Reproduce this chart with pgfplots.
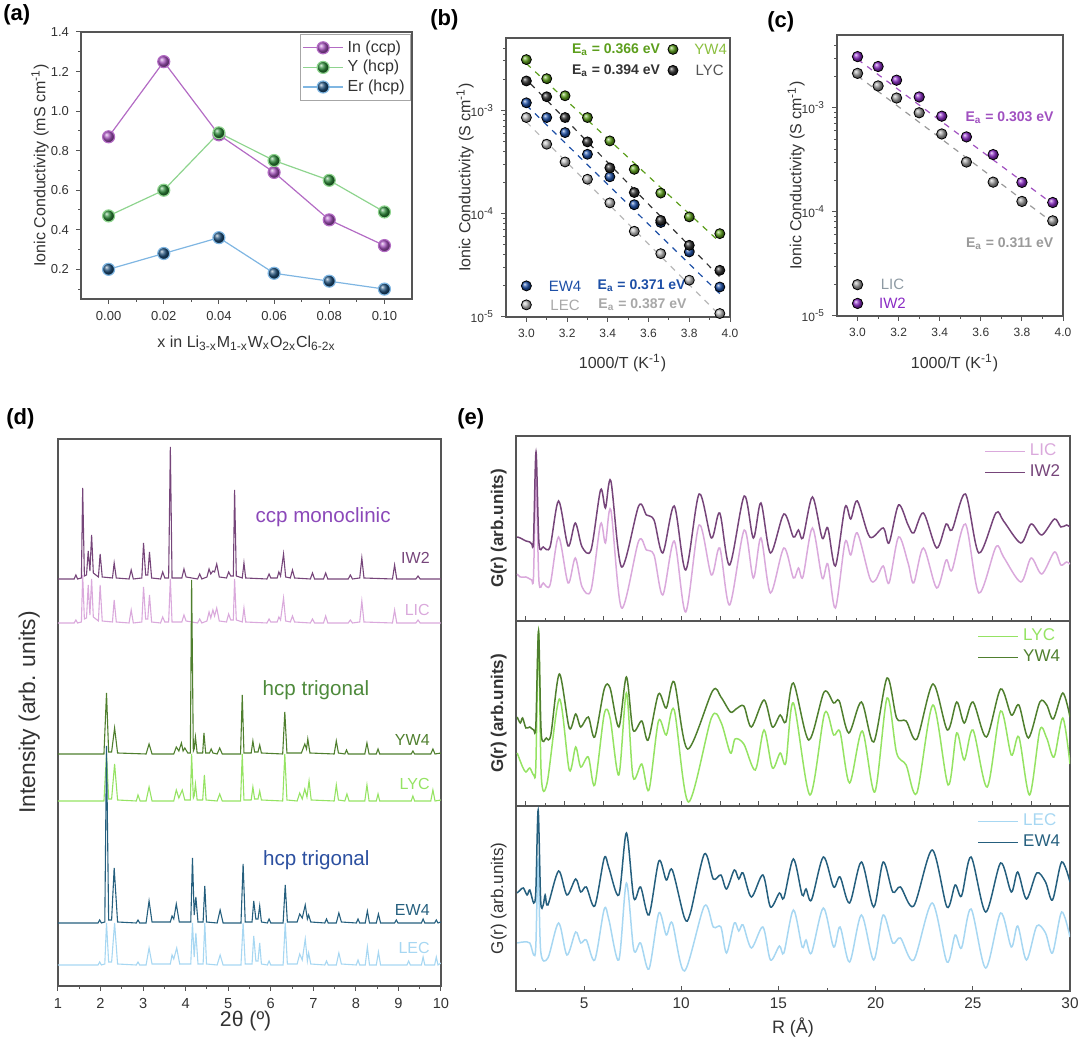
\documentclass[border=0pt]{standalone}
\usepackage{pgfplots}
\pgfplotsset{compat=1.18}
\usepackage{fontspec}
\setmainfont{Liberation Sans}
\newcommand{\fs}[1]{\fontsize{#1}{#1}\selectfont}
\definecolor{frameC}{HTML}{555555}
\definecolor{txtC}{HTML}{333333}
\definecolor{inL}{HTML}{B36BC4}
\definecolor{inM}{HTML}{A855C0}
\definecolor{yL}{HTML}{8ED48E}
\definecolor{yM}{HTML}{2E8B3A}
\definecolor{erL}{HTML}{7FB6E2}
\definecolor{erM}{HTML}{1F4F7A}
\definecolor{bYW}{HTML}{5C9E1C}
\definecolor{bYWt}{HTML}{8BBF3F}
\definecolor{bLY}{HTML}{333333}
\definecolor{bLYt}{HTML}{555555}
\definecolor{bEW}{HTML}{1D4FA6}
\definecolor{bLE}{HTML}{B8B8B8}
\definecolor{bLEt}{HTML}{A8A8A8}
\definecolor{cIW}{HTML}{8A2BC4}
\definecolor{cIWd}{HTML}{A050C0}
\definecolor{cLI}{HTML}{9A9A9A}
\definecolor{cLIt}{HTML}{8E9AA3}
\definecolor{dIW}{HTML}{76457A}
\definecolor{dLI}{HTML}{DAA9DC}
\definecolor{dYW}{HTML}{4F7F2E}
\definecolor{dLY}{HTML}{95E363}
\definecolor{dEW}{HTML}{255F7E}
\definecolor{dLE}{HTML}{A7D7F2}
\definecolor{ccpT}{HTML}{8B48B9}
\definecolor{hcpG}{HTML}{4E8A3C}
\definecolor{hcpB}{HTML}{2C50A0}
\pgfplotsset{
  base/.style={scale only axis, anchor=north west,
    axis line style={frameC, line width=0.6pt},
    every tick/.style={frameC, line width=0.5pt},
    major tick length=2.5pt, minor tick length=1.5pt,
    tick label style={text=txtC}, label style={text=txtC},
    /pgf/number format/assume math mode=true},
  pdf/.style={base, width=277pt, height=92.5pt, xmin=1.5, xmax=30, ymin=0, ymax=185,
    ytick=\empty, tick align=inside, xtick pos=bottom,
    axis line style={frameC, line width=0.7pt},
    legend style={draw=none, fill=none, at={(0.99,0.98)}, anchor=north east,
      font=\fs{8.5}, row sep=-1pt, inner sep=0pt, cells={anchor=west}},
    legend image code/.code={\draw[#1, line width=0.75pt] (0pt,0pt) -- (20pt,0pt);},
    ylabel style={font=\fs{8.5}, at={(axis description cs:-0.031,0.5)}, anchor=center}},
}
\begin{document}
\begin{tikzpicture}
\useasboundingbox (0,0) rectangle (540pt,521pt);
% panel labels
\node[anchor=north west, font=\bfseries\fs{11}, inner sep=0pt] at (1.5pt,519pt) {(a)};
\node[anchor=north west, font=\bfseries\fs{11}, inner sep=0pt] at (215pt,516.5pt) {(b)};
\node[anchor=north west, font=\bfseries\fs{11}, inner sep=0pt] at (383.5pt,515.5pt) {(c)};
\node[anchor=north west, font=\bfseries\fs{11}, inner sep=0pt] at (3pt,317pt) {(d)};
\node[anchor=north west, font=\bfseries\fs{11}, inner sep=0pt] at (228.5pt,317pt) {(e)};

% ---------------- (a)
\begin{axis}[base, at={(40.5pt,505pt)}, width=165.5pt, height=133.5pt,
  xmin=-0.01, xmax=0.11, ymin=0.05, ymax=1.4,
  xtick={0,0.02,0.04,0.06,0.08,0.1},
  minor xtick={0.01,0.03,0.05,0.07,0.09},
  ytick={0.2,0.4,0.6,0.8,1.0,1.2,1.4},
  minor ytick={0.1,0.3,0.5,0.7,0.9,1.1,1.3},
  tick align=outside, xtick pos=bottom, ytick pos=left,
  xticklabel style={/pgf/number format/.cd, fixed, fixed zerofill, precision=2},
  yticklabel style={/pgf/number format/.cd, fixed, fixed zerofill, precision=1},
  tick label style={font=\fs{6.5}},
  xlabel={x in Li\textsubscript{3-x}M\textsubscript{1-x}W\textsubscript{x}O\textsubscript{2x}Cl\textsubscript{6-2x}},
  ylabel={Ionic Conductivity (mS cm\textsuperscript{-1})},
  xlabel style={font=\fs{8}, at={(axis description cs:0.5,-0.165)}, anchor=center},
  ylabel style={font=\fs{8}, at={(axis description cs:-0.124,0.5)}, anchor=center},
  legend style={at={(0.997,0.992)}, anchor=north east, draw=gray!70, font=\fs{8},
    inner sep=1pt, row sep=-1.5pt, cells={anchor=west}, text=txtC},
  legend image code/.code={\draw[mark repeat=2,mark phase=2,#1] plot coordinates {(0pt,0pt) (10pt,0pt) (20pt,0pt)};},
]
\addplot[color=inL, line width=0.6pt, mark=ball, mark size=3pt, mark options={ball color=inM}]
  coordinates {(0,0.87) (0.02,1.25) (0.04,0.88) (0.06,0.69) (0.08,0.45) (0.10,0.32)};
\addlegendentry{In (ccp)}
\addplot[color=yL, line width=0.6pt, mark=ball, mark size=3pt, mark options={ball color=yM}]
  coordinates {(0,0.47) (0.02,0.60) (0.04,0.89) (0.06,0.75) (0.08,0.65) (0.10,0.49)};
\addlegendentry{Y (hcp)}
\addplot[color=erL, line width=0.6pt, mark=ball, mark size=3pt, mark options={ball color=erM}]
  coordinates {(0,0.20) (0.02,0.28) (0.04,0.36) (0.06,0.18) (0.08,0.14) (0.10,0.10)};
\addlegendentry{Er (hcp)}
\end{axis}

% ---------------- (b)
\begin{axis}[base, at={(253pt,502pt)}, width=112pt, height=139.5pt,
  ymode=log, xmin=2.9, xmax=4.0, ymin=1e-5, ymax=5e-3,
  xtick={3,3.2,3.4,3.6,3.8,4}, minor xtick={3.1,3.3,3.5,3.7,3.9},
  ytick={1e-5,1e-4,1e-3},
  yticklabels={10\textsuperscript{-5},10\textsuperscript{-4},10\textsuperscript{-3}},
  minor ytick={2e-5,3e-5,4e-5,5e-5,6e-5,7e-5,8e-5,9e-5,2e-4,3e-4,4e-4,5e-4,6e-4,7e-4,8e-4,9e-4,2e-3,3e-3,4e-3},
  xticklabel style={/pgf/number format/.cd, fixed, fixed zerofill, precision=1},
  tick align=outside, xtick pos=bottom, ytick pos=left,
  tick label style={font=\fs{6}},
  xlabel={1000/T (K\textsuperscript{-1})}, ylabel={Ionic Conductivity (S cm\textsuperscript{-1})},
  xlabel style={font=\fs{8}, at={(axis description cs:0.52,-0.165)}, anchor=center},
  ylabel style={font=\fs{8}, at={(axis description cs:-0.183,0.5)}, anchor=center},
]
\addplot[bYW, dashed, line width=0.6pt] coordinates {(3.0,2.83e-3) (3.95,5.3e-5)};
\addplot[bLY, dashed, line width=0.6pt] coordinates {(3.02,1.81e-3) (3.95,2.44e-5)};
\addplot[bEW, dashed, line width=0.6pt] coordinates {(3.0,1.12e-3) (3.95,1.68e-5)};
\addplot[bLE, dashed, line width=0.6pt] coordinates {(3.0,7.7e-4) (3.95,1.04e-5)};
\addplot[only marks, mark=ball, mark size=2.5pt, mark options={ball color=bLE}] coordinates {
 (3.0,8.5e-4) (3.1,4.69e-4) (3.19,3.16e-4) (3.3,2.15e-4) (3.41,1.27e-4) (3.53,6.75e-5) (3.66,4.1e-5) (3.8,2.27e-5) (3.95,1.08e-5)};
\addplot[only marks, mark=ball, mark size=2.5pt, mark options={ball color=bEW}] coordinates {
 (3.0,1.18e-3) (3.1,8.5e-4) (3.19,6.08e-4) (3.3,3.75e-4) (3.41,2.27e-4) (3.53,1.22e-4) (3.66,8.2e-5) (3.8,4.26e-5) (3.95,1.95e-5)};
\addplot[only marks, mark=ball, mark size=2.5pt, mark options={ball color=bLY}] coordinates {
 (3.0,1.92e-3) (3.1,1.35e-3) (3.19,8.5e-4) (3.3,4.94e-4) (3.41,2.77e-4) (3.53,1.6e-4) (3.66,8.6e-5) (3.8,4.94e-5) (3.95,2.83e-5)};
\addplot[only marks, mark=ball, mark size=2.5pt, mark options={ball color=bYW}] coordinates {
 (3.0,3.09e-3) (3.1,2.02e-3) (3.19,1.38e-3) (3.3,8.5e-4) (3.41,5.05e-4) (3.53,2.68e-4) (3.66,1.58e-4) (3.8,9.3e-5) (3.95,6.4e-5)};
% legend-like markers
\addplot[only marks, mark=ball, mark size=2.5pt, mark options={ball color=bYW}] coordinates {(3.72,3.88e-3)};
\addplot[only marks, mark=ball, mark size=2.5pt, mark options={ball color=bLY}] coordinates {(3.72,2.43e-3)};
\addplot[only marks, mark=ball, mark size=2.5pt, mark options={ball color=bEW}] coordinates {(3.0,2.0e-5)};
\addplot[only marks, mark=ball, mark size=2.5pt, mark options={ball color=bLE}] coordinates {(3.0,1.31e-5)};
\node[font=\bfseries\fs{7}, text=bYW] at (axis cs:3.44,3.88e-3) {E\textsubscript{a} = 0.366 eV};
\node[font=\fs{7.5}, text=bYWt] at (axis cs:3.905,3.88e-3) {YW4};
\node[font=\bfseries\fs{7}, text=bLY] at (axis cs:3.44,2.43e-3) {E\textsubscript{a} = 0.394 eV};
\node[font=\fs{7.5}, text=bLYt] at (axis cs:3.90,2.43e-3) {LYC};
\node[font=\fs{7.5}, text=bEW] at (axis cs:3.19,2.0e-5) {EW4};
\node[font=\bfseries\fs{7}, text=bEW] at (axis cs:3.566,2.0e-5) {E\textsubscript{a} = 0.371 eV};
\node[font=\fs{7.5}, text=bLEt] at (axis cs:3.19,1.31e-5) {LEC};
\node[font=\bfseries\fs{7}, text=bLEt] at (axis cs:3.57,1.31e-5) {E\textsubscript{a} = 0.387 eV};
\end{axis}

% ---------------- (c)
\begin{axis}[base, at={(418.5pt,503.5pt)}, width=113pt, height=140.5pt,
  ymode=log, xmin=2.9, xmax=4.0, ymin=1e-5, ymax=5e-3,
  xtick={3,3.2,3.4,3.6,3.8,4}, minor xtick={3.1,3.3,3.5,3.7,3.9},
  ytick={1e-5,1e-4,1e-3},
  yticklabels={10\textsuperscript{-5},10\textsuperscript{-4},10\textsuperscript{-3}},
  minor ytick={2e-5,3e-5,4e-5,5e-5,6e-5,7e-5,8e-5,9e-5,2e-4,3e-4,4e-4,5e-4,6e-4,7e-4,8e-4,9e-4,2e-3,3e-3,4e-3},
  xticklabel style={/pgf/number format/.cd, fixed, fixed zerofill, precision=1},
  tick align=outside, xtick pos=bottom, ytick pos=left,
  tick label style={font=\fs{6}},
  xlabel={1000/T (K\textsuperscript{-1})}, ylabel={Ionic Conductivity (S cm\textsuperscript{-1})},
  xlabel style={font=\fs{8}, at={(axis description cs:0.52,-0.167)}, anchor=center},
  ylabel style={font=\fs{8}, at={(axis description cs:-0.181,0.5)}, anchor=center},
]
\addplot[cIWd, dashed, line width=0.6pt] coordinates {(3.0,2.92e-3) (3.95,1.19e-4)};
\addplot[cLI, dashed, line width=0.6pt] coordinates {(3.0,2.02e-3) (3.95,7.9e-5)};
\addplot[only marks, mark=ball, mark size=2.6pt, mark options={ball color=cLI}] coordinates {
 (3.0,2.14e-3) (3.1,1.62e-3) (3.19,1.24e-3) (3.3,8.95e-4) (3.41,5.6e-4) (3.53,3.01e-4) (3.66,1.93e-4) (3.8,1.26e-4) (3.95,8.2e-5)};
\addplot[only marks, mark=ball, mark size=2.6pt, mark options={ball color=cIW}] coordinates {
 (3.0,3.1e-3) (3.1,2.49e-3) (3.19,1.84e-3) (3.3,1.27e-3) (3.41,8.3e-4) (3.53,5.25e-4) (3.66,3.55e-4) (3.8,1.92e-4) (3.95,1.23e-4)};
\addplot[only marks, mark=ball, mark size=2.6pt, mark options={ball color=cLI}] coordinates {(3.0,2.0e-5)};
\addplot[only marks, mark=ball, mark size=2.6pt, mark options={ball color=cIW}] coordinates {(3.0,1.32e-5)};
\node[font=\bfseries\fs{7}, text=cIWd] at (axis cs:3.74,8.0e-4) {E\textsubscript{a} = 0.303 eV};
\node[font=\bfseries\fs{7}, text=cLI] at (axis cs:3.74,5.0e-5) {E\textsubscript{a} = 0.311 eV};
\node[font=\fs{7.5}, text=cLIt] at (axis cs:3.17,2.0e-5) {LIC};
\node[font=\fs{7.5}, text=cIW] at (axis cs:3.17,1.32e-5) {IW2};
\end{axis}

% ---------------- (d)
\begin{axis}[base, at={(29pt,301.5pt)}, width=191.5pt, height=273.5pt,
  xmin=1, xmax=10, ymin=0, ymax=547,
  xtick={1,2,3,4,5,6,7,8,9,10}, minor xtick={1.5,2.5,3.5,4.5,5.5,6.5,7.5,8.5,9.5},
  ytick=\empty, tick align=outside, xtick pos=bottom,
  axis line style={frameC, line width=0.7pt},
  tick label style={font=\fs{7.3}},
  xlabel={2θ (º)}, ylabel={Intensity (arb. units)},
  xlabel style={font=\fs{10.6}, at={(axis description cs:0.49,-0.064)}, anchor=center},
  ylabel style={font=\fs{11.4}, at={(axis description cs:-0.075,0.5)}, anchor=center},
]
\addplot[dLI, line width=0.55pt] table[x index=0, y expr=\thisrowno{1}+363] {
1.0 0
1.38 0
1.42 3
1.46 0
1.55 1
1.58 48
1.62 4
1.67 5
1.71 38
1.75 8
1.79 44
1.83 6
1.95 2
1.99 38
2.04 2
2.28 1
2.32 23
2.37 1
2.67 0
2.72 13
2.77 0
2.97 1
3.01 36
3.06 4
3.11 4
3.15 28
3.20 1
3.41 0
3.46 6
3.51 1
3.60 1
3.64 44
3.68 1
3.91 1
3.96 8
4.01 2
4.28 0
4.33 4
4.38 0
4.50 2
4.55 11
4.59 5
4.64 13
4.68 7
4.73 15
4.79 2
4.96 1
5.01 9
5.06 3
5.12 3
5.15 44
5.19 3
5.33 1
5.37 15
5.41 1
5.91 0
5.96 4
6.0 1
6.15 1
6.19 6
6.23 3
6.30 25
6.35 2
6.46 1
6.51 7
6.56 1
6.93 0
6.98 4
7.03 0
7.24 0
7.29 7
7.34 0
7.82 0
7.87 3
7.92 0
8.09 1
8.14 22
8.19 1
8.86 0
8.91 13
8.96 0
9.41 0
9.46 3
9.51 0
10.0 0
};
\addplot[dIW, line width=0.55pt] table[x index=0, y expr=\thisrowno{1}+407] {
1.0 0
1.38 0
1.42 4
1.46 0
1.55 1
1.58 91
1.62 3
1.67 4
1.71 28
1.75 8
1.79 44
1.83 6
1.95 2
1.99 25
2.04 2
2.28 1
2.32 16
2.37 1
2.67 0
2.72 9
2.77 0
2.97 1
3.01 36
3.06 4
3.11 4
3.15 27
3.20 1
3.41 0
3.46 7
3.51 1
3.60 1
3.64 132
3.68 1
3.91 1
3.96 10
4.01 2
4.28 0
4.33 5
4.38 0
4.50 2
4.55 10
4.59 5
4.64 8
4.68 7
4.73 15
4.79 2
4.96 1
5.01 7
5.06 3
5.12 3
5.15 89
5.19 3
5.33 1
5.37 16
5.41 1
5.91 0
5.96 5
6.0 1
6.15 1
6.19 7
6.23 3
6.30 25
6.35 2
6.46 1
6.51 9
6.56 1
6.93 0
6.98 6
7.03 0
7.24 0
7.29 6
7.34 0
7.82 0
7.87 4
7.92 0
8.09 1
8.14 21
8.19 1
8.86 0
8.91 14
8.96 0
9.41 0
9.46 3
9.51 0
10.0 0
};
\addplot[dLY, line width=0.55pt] table[x index=0, y expr=\thisrowno{1}+185] {
1.0 0
2.08 0
2.14 47
2.19 2
2.26 2
2.33 37
2.40 1
2.84 0
2.88 6
2.93 0
3.07 0
3.14 14
3.21 0
3.72 0
3.78 11
3.84 3
3.92 11
3.98 1
4.11 1
4.14 47
4.18 3
4.20 5
4.23 17
4.27 1
4.40 1
4.44 26
4.48 1
4.74 0
4.80 7
4.86 0
5.29 0
5.33 47
5.37 1
5.54 1
5.58 14
5.62 2
5.70 2
5.74 10
5.78 1
6.28 0
6.33 47
6.38 1
6.62 0
6.68 8
6.74 2
6.80 12
6.85 4
6.90 20
6.95 1
7.49 0
7.54 16
7.59 1
7.74 0
7.79 7
7.84 0
8.21 0
8.26 16
8.31 0
8.48 0
8.52 7
8.56 0
9.30 0
9.34 5
9.38 0
9.76 0
9.81 11
9.86 0
10.0 1
};
\addplot[dYW, line width=0.55pt] table[x index=0, y expr=\thisrowno{1}+232] {
1.0 0
2.08 0
2.14 61
2.19 2
2.26 2
2.33 26
2.40 1
3.07 0
3.14 10
3.21 0
3.72 0
3.78 7
3.84 3
3.90 11
3.94 3
3.98 6
4.05 1
4.11 1
4.14 174
4.18 3
4.20 5
4.23 17
4.27 1
4.40 1
4.43 21
4.47 1
4.56 1
4.60 5
4.64 1
4.74 0
4.80 6
4.86 0
5.29 0
5.33 59
5.37 1
5.54 1
5.58 13
5.62 2
5.70 2
5.74 9
5.78 1
6.28 0
6.33 42
6.38 1
6.72 1
6.80 10
6.84 5
6.87 15
6.92 1
7.49 0
7.54 13
7.59 1
7.74 0
7.78 4
7.82 0
8.21 0
8.26 11
8.31 0
8.48 0
8.52 5
8.56 0
9.30 0
9.34 3
9.38 0
9.76 0
9.81 5
9.86 0
10.0 1
};
\addplot[dLE, line width=0.55pt] table[x index=0, y expr=\thisrowno{1}+21] {
1.0 0
1.94 0
1.98 3
2.02 0
2.10 1
2.14 42
2.19 3
2.26 3
2.33 42
2.40 1
2.84 0
2.88 3
2.92 0
3.07 0
3.14 17
3.21 1
3.64 1
3.68 10
3.72 6
3.79 17
3.86 1
4.12 1
4.16 42
4.20 8
4.24 32
4.29 1
4.41 1
4.45 42
4.49 1
4.74 0
4.81 10
4.88 0
5.30 0
5.35 42
5.40 1
5.56 1
5.60 29
5.65 4
5.70 4
5.74 22
5.78 1
5.92 0
5.96 4
6.00 0
6.29 0
6.34 42
6.39 1
6.62 1
6.68 11
6.74 5
6.81 26
6.86 4
6.89 12
6.94 1
7.27 0
7.31 4
7.35 0
7.54 0
7.60 12
7.66 1
8.01 0
8.05 5
8.09 0
8.22 0
8.27 18
8.32 0
8.48 0
8.53 13
8.58 0
9.20 0
9.24 4
9.28 0
9.54 0
9.58 8
9.62 0
9.85 0
9.89 8
9.93 0
10.0 2
};
\addplot[dEW, line width=0.55pt] table[x index=0, y expr=\thisrowno{1}+63] {
1.0 0
1.94 0
1.98 3
2.02 0
2.10 1
2.14 177
2.19 3
2.26 3
2.32 55
2.40 1
2.84 0
2.88 3
2.92 0
3.07 0
3.14 22
3.21 1
3.64 1
3.68 7
3.72 4
3.78 19
3.85 1
4.12 1
4.16 65
4.20 8
4.24 26
4.29 1
4.41 1
4.45 37
4.49 1
4.74 0
4.81 13
4.88 0
5.30 0
5.35 59
5.40 1
5.56 1
5.60 22
5.65 4
5.70 4
5.74 17
5.78 1
5.92 0
5.96 4
6.00 0
6.29 0
6.34 38
6.39 1
6.62 1
6.68 9
6.74 5
6.81 18
6.86 4
6.89 8
6.94 1
7.27 0
7.31 4
7.35 0
7.54 0
7.60 10
7.66 1
8.01 0
8.05 4
8.09 0
8.22 0
8.27 12
8.32 0
8.48 0
8.53 9
8.58 0
8.91 0
8.95 3
8.99 0
9.54 0
9.58 4
9.62 0
9.85 0
9.89 3
9.93 0
10.0 1
};
\node[font=\fs{10.3}, text=ccpT] at (axis cs:7.23,469) {ccp monoclinic};
\node[font=\fs{10.3}, text=hcpG] at (axis cs:7.06,296) {hcp trigonal};
\node[font=\fs{10.3}, text=hcpB] at (axis cs:7.07,126) {hcp trigonal};
\node[font=\fs{8}, text=dIW, anchor=east] at (axis cs:9.9,428) {IW2};
\node[font=\fs{8}, text=dLI, anchor=east] at (axis cs:9.9,376) {LIC};
\node[font=\fs{8}, text=dYW, anchor=east] at (axis cs:9.9,246) {YW4};
\node[font=\fs{8}, text=dLY, anchor=east] at (axis cs:9.9,202) {LYC};
\node[font=\fs{8}, text=dEW, anchor=east] at (axis cs:9.9,76) {EW4};
\node[font=\fs{8}, text=dLE, anchor=east] at (axis cs:9.9,38) {LEC};
\end{axis}

% ---------------- (e) top
\begin{axis}[pdf, at={(258pt,303pt)},
  xtick={2,4,...,30}, minor xtick={3,5,...,29}, xticklabels={},
  ylabel={\bfseries G(r) (arb.units)}]
\addplot[dLI, line width=0.75pt, smooth] coordinates {
(1.56,47) (1.72,44) (2.01,44) (2.21,42) (2.31,41) (2.40,44) (2.53,141) (2.68,40) (2.90,38) (3.25,36)
(3.69,84) (4.18,38) (4.55,63) (4.90,34) (5.36,31) (5.85,97) (6.10,78) (6.38,111) (6.93,13) (7.81,80)
(8.21,71) (8.60,66) (9.05,26) (9.64,80) (10.23,9) (10.92,96) (11.55,46) (11.98,73) (12.49,16) (13.24,91)
(13.71,43) (14.10,83) (14.59,28) (15.28,73) (15.77,43) (16.03,53) (16.26,44) (16.75,93) (17.25,43) (17.54,57)
(17.93,13) (18.43,79) (18.72,66) (19.06,88) (19.70,43) (20.00,41) (20.39,55) (20.69,38) (21.18,84) (21.67,58)
(21.96,38) (22.46,73) (23.14,33) (23.63,61) (23.93,51) (24.62,97) (25.31,28) (26.19,74) (26.58,64) (27.47,39)
(28.00,63) (28.55,47) (29.20,69) (29.53,56) (29.82,59) (30.00,57)};
\addlegendentry{\textcolor{dLI}{LIC}}
\addplot[dIW, line width=0.75pt, smooth] coordinates {
(1.56,84) (1.72,83) (2.01,80) (2.21,79) (2.31,77) (2.40,80) (2.53,169) (2.68,78) (2.90,74) (3.25,74)
(3.69,120) (4.18,75) (4.55,98) (4.90,74) (5.36,71) (5.85,131) (6.10,113) (6.38,140) (6.93,54) (7.81,115)
(8.21,106) (8.60,101) (9.05,68) (9.64,115) (10.23,51) (10.92,127) (11.55,83) (11.98,108) (12.49,56) (13.24,125)
(13.71,83) (14.10,118) (14.59,68) (15.28,107) (15.77,84) (16.03,91) (16.26,83) (16.75,124) (17.25,83) (17.54,93)
(17.93,55) (18.43,114) (18.72,102) (19.06,120) (19.70,84) (20.39,93) (20.69,78) (21.18,116) (21.67,96) (21.96,88)
(22.46,108) (23.14,73) (23.63,97) (23.93,91) (24.62,127) (25.31,68) (26.19,108) (26.58,100) (27.47,78) (28.00,97)
(28.55,86) (29.20,102) (29.53,94) (29.82,96) (30.00,94)};
\addlegendentry{\textcolor{dIW}{IW2}}
\end{axis}

% ---------------- (e) middle
\begin{axis}[pdf, at={(258pt,210.5pt)},
  xtick={2,4,...,30}, minor xtick={3,5,...,29}, xticklabels={},
  ylabel={\bfseries G(r) (arb.units)}]
\addplot[dLY, line width=0.75pt, smooth] coordinates {
(1.56,53) (1.84,39) (2.01,34) (2.21,38) (2.41,31) (2.52,40) (2.66,174) (2.80,30) (3.10,23) (3.73,107)
(4.24,36) (4.57,59) (4.83,39) (5.22,49) (5.55,21) (6.04,92) (6.34,88) (6.79,31) (7.18,113) (7.52,29)
(7.97,42) (8.34,16) (8.83,85) (9.23,71) (9.64,96) (10.37,4) (11.55,88) (12.04,84) (12.53,53) (12.77,67)
(13.22,62) (13.81,36) (14.26,76) (14.69,38) (15.09,53) (15.38,43) (15.77,103) (16.62,11) (17.38,93) (17.84,71)
(18.17,74) (18.66,23) (19.31,75) (19.96,14) (20.59,108) (21.08,53) (21.57,41) (22.12,13) (22.95,101) (23.73,21)
(24.17,73) (24.56,46) (25.01,76) (25.74,19) (26.43,95) (26.98,51) (27.37,69) (27.92,11) (28.45,76) (28.80,68)
(29.18,49) (29.63,88) (30.00,42)};
\addlegendentry{\textcolor{dLY}{LYC}}
\addplot[dYW, line width=0.75pt, smooth] coordinates {
(1.56,89) (1.72,83) (1.84,88) (2.01,78) (2.21,79) (2.41,76) (2.52,80) (2.66,175) (2.80,72) (3.06,68)
(3.29,71) (3.73,132) (4.24,78) (4.57,92) (4.83,79) (5.22,89) (5.55,69) (6.04,117) (6.34,118) (6.79,79)
(7.18,129) (7.52,76) (7.97,85) (8.30,66) (8.83,112) (9.23,98) (9.64,124) (10.33,57) (11.61,115) (12.04,109)
(12.53,94) (12.82,97) (13.22,100) (13.61,79) (14.26,106) (14.69,79) (15.09,91) (15.38,84) (15.77,123) (16.56,66)
(17.35,114) (17.84,103) (18.13,105) (18.62,73) (19.27,104) (19.90,64) (20.59,128) (21.08,88) (21.57,85) (22.12,67)
(22.95,122) (23.69,76) (24.17,104) (24.56,83) (25.01,104) (25.70,69) (26.43,117) (26.98,91) (27.37,101) (27.86,68)
(28.45,104) (28.80,101) (29.14,87) (29.63,113) (30.00,89)};
\addlegendentry{\textcolor{dYW}{YW4}}
\end{axis}

% ---------------- (e) bottom
\begin{axis}[pdf, at={(258pt,118pt)},
  xtick={5,10,15,20,25,30}, minor xtick={2.5,7.5,12.5,17.5,22.5,27.5},
  tick label style={font=\fs{7.7}},
  xlabel={R (Å)}, ylabel={G(r) (arb.units)},
  xlabel style={font=\fs{9}, at={(axis description cs:0.5,-0.2)}, anchor=center}]
\addplot[dLE, line width=0.75pt, smooth] coordinates {
(1.56,48) (1.88,49) (2.21,48) (2.41,36) (2.52,45) (2.64,131) (2.77,40) (3.14,33) (3.69,68) (4.12,36)
(4.57,59) (4.83,48) (5.12,51) (5.55,31) (6.04,82) (6.28,71) (6.79,31) (7.18,108) (7.56,41) (7.91,48)
(8.34,22) (8.85,78) (9.23,56) (9.54,68) (10.17,20) (11.19,85) (11.65,64) (12.04,64) (12.33,38) (12.73,68)
(12.96,60) (13.18,66) (13.61,43) (14.20,64) (14.59,31) (15.05,45) (15.28,38) (15.77,81) (16.22,44) (16.42,51)
(16.70,38) (17.31,83) (17.84,44) (18.17,64) (18.66,29) (19.27,76) (19.90,31) (20.39,76) (20.88,48) (21.28,53)
(21.96,31) (22.91,88) (23.67,29) (24.09,56) (24.42,43) (24.91,82) (25.66,23) (26.43,78) (26.98,44) (27.31,65)
(27.76,31) (28.29,65) (28.74,58) (29.10,38) (29.57,79) (30.00,54)};
\addlegendentry{\textcolor{dLE}{LEC}}
\addplot[dEW, line width=0.75pt, smooth] coordinates {
(1.56,98) (1.72,101) (1.88,103) (2.07,96) (2.21,101) (2.41,88) (2.52,100) (2.64,181) (2.77,90) (2.90,86)
(3.00,96) (3.14,86) (3.69,120) (4.12,96) (4.57,112) (4.83,99) (5.12,104) (5.55,85) (6.04,133) (6.28,123)
(6.79,96) (7.18,158) (7.56,93) (7.91,104) (8.34,76) (8.85,130) (9.23,111) (9.54,121) (10.17,73) (10.47,78)
(11.19,137) (11.65,112) (12.04,116) (12.33,102) (12.73,121) (12.96,112) (13.18,118) (13.61,94) (14.20,116) (14.59,84)
(15.05,98) (15.28,93) (15.77,132) (16.22,96) (16.42,102) (16.70,91) (17.31,134) (17.84,104) (18.17,114) (18.66,88)
(19.27,129) (19.90,84) (20.39,129) (20.88,99) (21.28,104) (21.96,85) (22.91,141) (23.67,84) (24.09,106) (24.42,95)
(24.91,134) (25.66,79) (26.43,128) (26.98,99) (27.31,119) (27.76,92) (28.29,118) (28.74,109) (29.10,91) (29.57,129)
(30.00,109)};
\addlegendentry{\textcolor{dEW}{EW4}}
\end{axis}
\end{tikzpicture}
\end{document}
